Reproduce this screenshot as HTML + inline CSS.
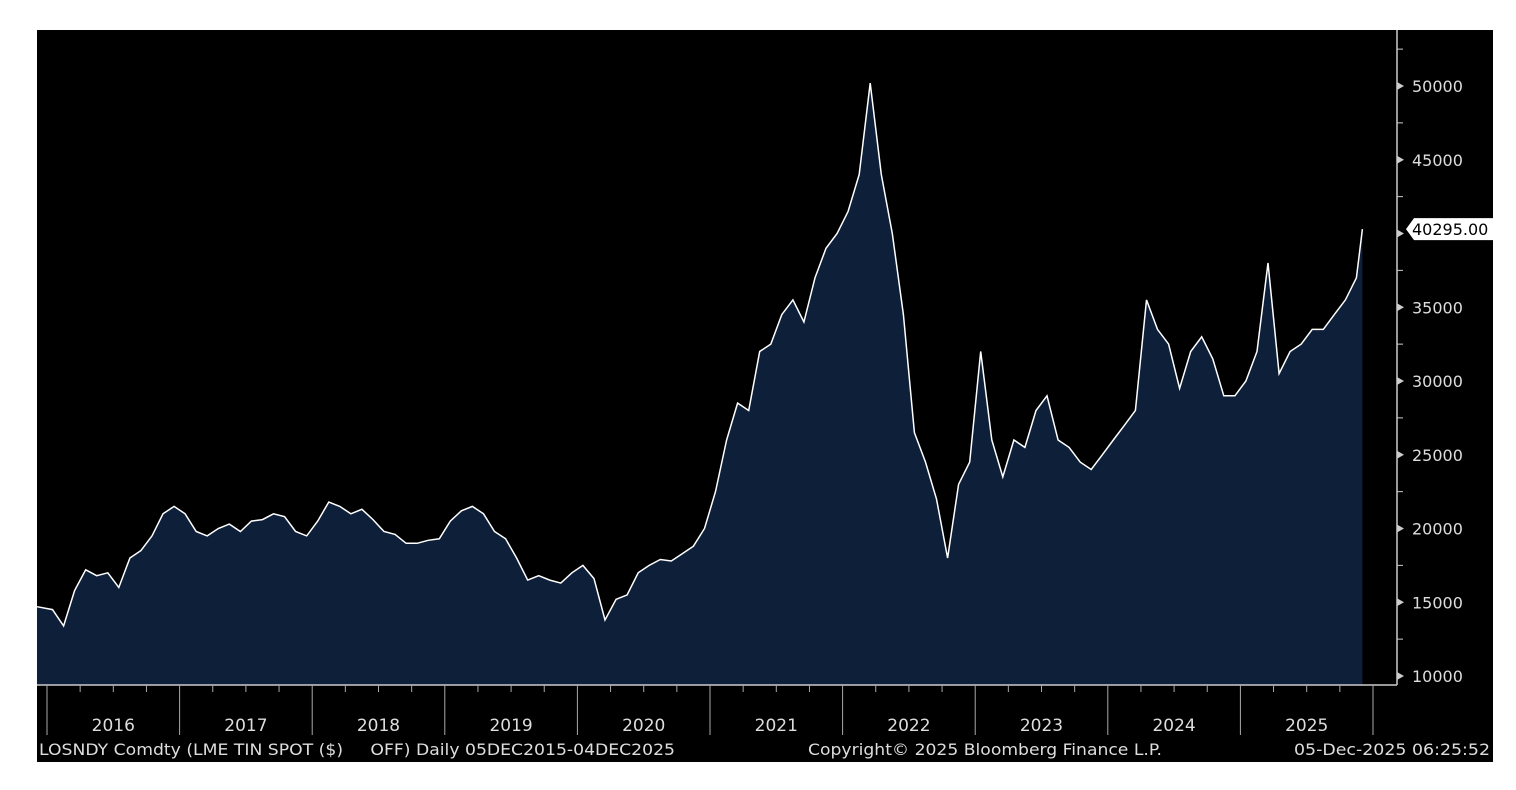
<!DOCTYPE html>
<html><head><meta charset="utf-8"><style>
body{margin:0;background:#fff;width:1516px;height:790px;overflow:hidden}
svg{position:absolute;left:0;top:0}
text{font-family:"DejaVu Sans","Liberation Sans",sans-serif;white-space:pre}
</style></head><body>
<svg id="c" width="1516" height="790"></svg>
<script>
const years=[2016,2017,2018,2019,2020,2021,2022,2023,2024,2025];
const yTicks=[10000,15000,20000,25000,30000,35000,40000,45000,50000];
const prices=[14700,
14500,13400,15800,17200,16800,17000,16000,18000,18500,19500,21000,21500,
21000,19800,19500,20000,20300,19800,20500,20600,21000,20800,19800,19500,
20500,21800,21500,21000,21300,20600,19800,19600,19000,19000,19200,19300,
20500,21200,21500,21000,19800,19300,18000,16500,16800,16500,16300,17000,
17500,16600,13800,15200,15500,17000,17500,17900,17800,18300,18800,20000,
22500,26000,28500,28000,32000,32500,34500,35500,34000,37000,39000,40000,
41500,44000,50200,44000,40000,34500,26500,24500,22000,18000,23000,24500,
32000,26000,23500,26000,25500,28000,29000,26000,25500,24500,24000,25000,
26000,27000,28000,35500,33500,32500,29500,32000,33000,31500,29000,29000,
30000,32000,38000,30500,32000,32500,33500,33500,34500,35500,37000,40295];
const lastValue=40295;
const NS="http://www.w3.org/2000/svg";
const svgEl=document.getElementById('c');
function mk(t,a){const e=document.createElementNS(NS,t);for(const k in a)e.setAttribute(k,a[k]);svgEl.appendChild(e);return e;}
const X0=47,YW=132.6,plotLeft=37,plotRight=1397,plotTop=30,plotBottom=685;
const xOf=t=>X0+t*YW;
const yOf=v=>676-(v-10000)/5000*73.75;
let bg=mk('rect',{x:37,y:30,width:1456,height:732,fill:'#000'});


const pts=prices.map((v,i)=>{let t=(i-1)/12+0.5/12;if(i===0)t=-0.08;if(i===prices.length-1)t=9.92;return [Math.max(plotLeft,xOf(t)),yOf(v)];});
let d='M'+pts.map(p=>p[0].toFixed(1)+','+p[1].toFixed(1)).join('L');
let area=mk('path',{d:d+'L'+pts[pts.length-1][0]+','+plotBottom+'L'+plotLeft+','+plotBottom+'Z',fill:'#0e1f3a'});


let pline=mk('path',{d:d,fill:'none',stroke:'#fff','stroke-width':1.5});


let ya=mk('line',{x1:plotRight,y1:plotTop,x2:plotRight,y2:plotBottom,stroke:'#ccc','stroke-width':1.5});


let xa=mk('line',{x1:plotLeft,y1:plotBottom,x2:plotRight,y2:plotBottom,stroke:'#ccc','stroke-width':1.5});


yTicks.forEach(v=>{const y=yOf(v);
 mk('path',{d:'M'+plotRight+','+(y-4)+'L'+(plotRight+7)+','+y+'L'+plotRight+','+(y+4)+'Z',fill:'#ccc'});
 const mid=yOf(v+2500);if(mid>plotTop)mk('line',{x1:plotRight,y1:mid,x2:plotRight+6,y2:mid,stroke:'#ccc'});
 let t=mk('text',{x:1412,y:y+6,fill:'#ddd','font-size':16});t.textContent=v;
 
 
});
for(let k=0;k<=10;k++){const x=xOf(k);
 mk('line',{x1:x,y1:plotBottom,x2:x,y2:735,stroke:'#aaa'});
 for(let q=1;q<4&&k<10;q++){const xq=xOf(k+q/4);mk('line',{x1:xq,y1:plotBottom,x2:xq,y2:692,stroke:'#aaa'});}
}
years.forEach((yr,i)=>{let t=mk('text',{x:xOf(i+0.5),y:731,fill:'#ddd','font-size':17,'text-anchor':'middle'});t.textContent=yr;
 
 });
const ly=yOf(lastValue);
let tag=mk('path',{d:'M1406,'+ly+'L1414,'+(ly-11)+'L1493,'+(ly-11)+'L1493,'+(ly+11)+'L1414,'+(ly+11)+'Z',fill:'#fff'});


let tt=mk('text',{x:1412,y:ly+6,fill:'#000','font-size':16});tt.textContent=lastValue.toFixed(2);


const foot=[[39,'LOSNDY Comdty (LME TIN SPOT ($)     OFF) Daily 05DEC2015-04DEC2025',636],[808,'Copyright© 2025 Bloomberg Finance L.P.',354],[1294,'05-Dec-2025 06:25:52',196]];
foot.forEach(f=>{let t=mk('text',{x:f[0],y:755,fill:'#ddd','font-size':16,textLength:f[2],lengthAdjust:'spacingAndGlyphs'});t.textContent=f[1];
 
 });
</script>
</body></html>
